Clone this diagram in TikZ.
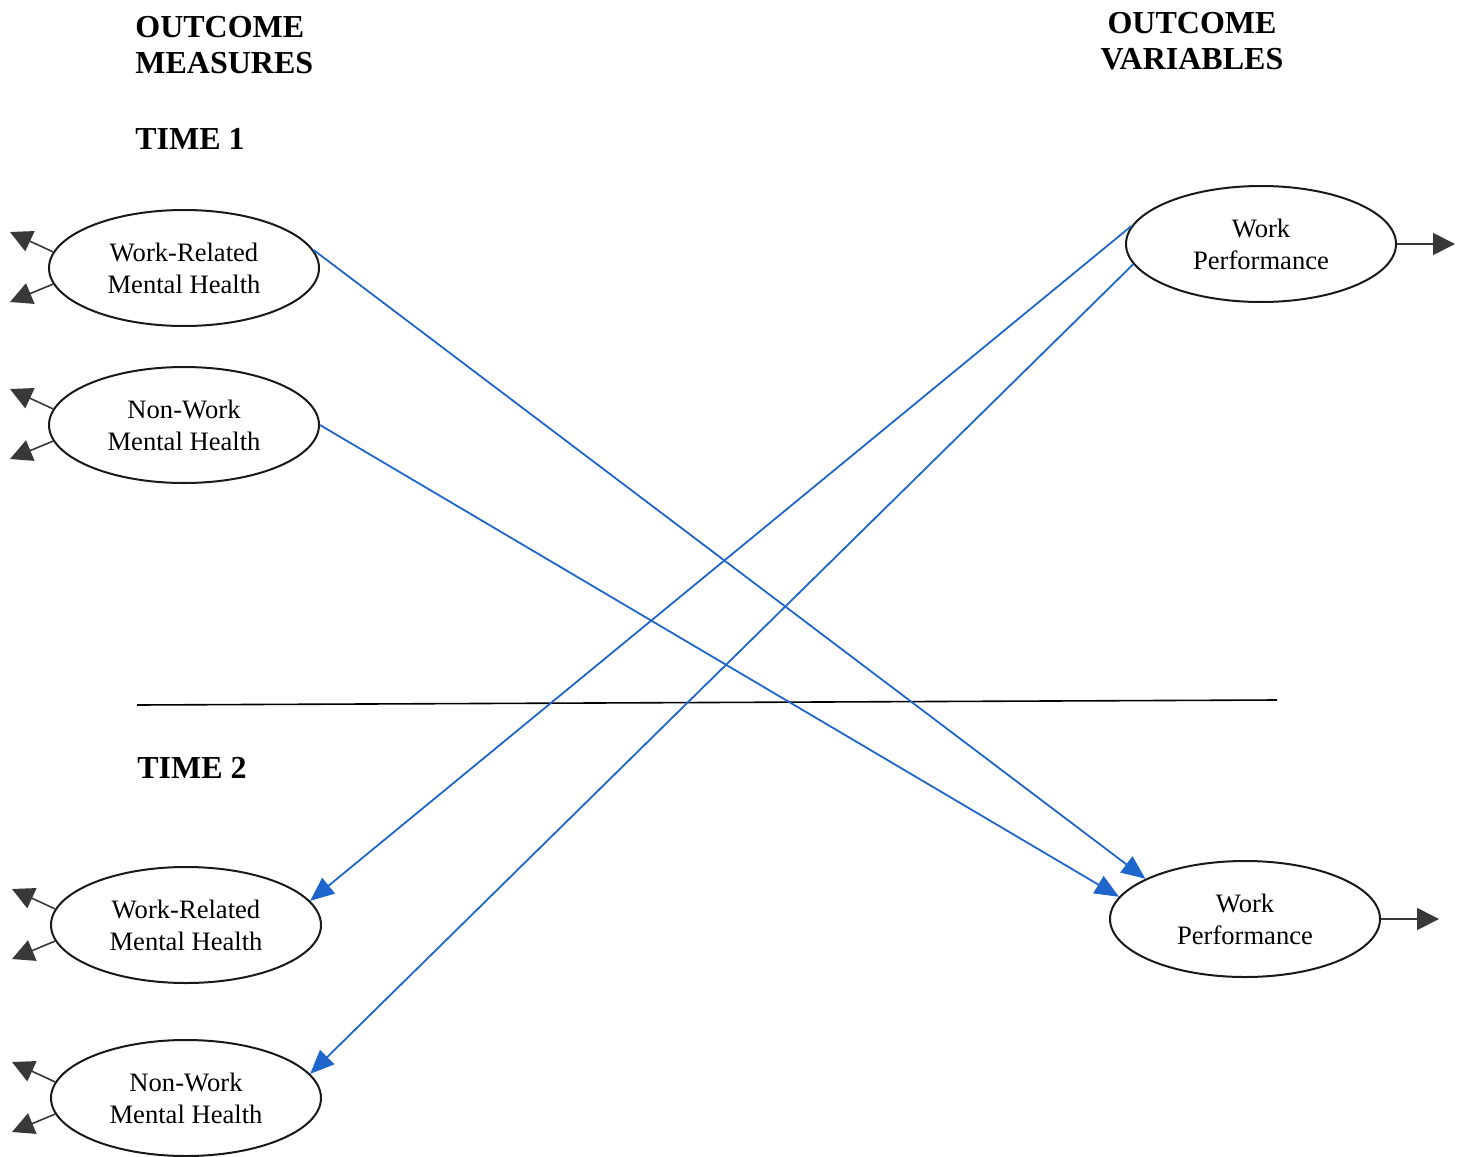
\documentclass[tikz,border=0pt]{standalone}
\usepackage{fontspec}
\setmainfont{Liberation Serif}
\usetikzlibrary{shapes.geometric,arrows.meta,calc}
\definecolor{pathblue}{HTML}{1E66CC}
\definecolor{tipgray}{HTML}{383838}
\begin{document}
\begin{tikzpicture}[x=0.5pt,y=-0.5pt,
  latent/.style={draw=black!90,line width=1pt,ellipse,minimum width=135pt,minimum height=58pt,
    inner sep=0pt,align=center,font=\fontsize{13.3}{16}\selectfont},
  heading/.style={font=\fontsize{16}{18}\selectfont\bfseries,inner sep=0pt},
  path/.style={draw=pathblue,line width=0.9pt,-{Triangle[length=12pt,width=10pt]}},
  resid/.style={draw=tipgray,line width=0.8pt,-{Triangle[length=11pt,width=11pt]}},
  outarrow/.style={draw=tipgray,line width=0.8pt,-{Triangle[length=11pt,width=11pt]}}]
\useasboundingbox (0,0) rectangle (1461,1156);

% column headings (base anchor sits on the last line)
\node[heading,anchor=base west,align=left] (hm) at (135,74) {OUTCOME\\MEASURES};
\node[heading,anchor=base,align=center] (hv) at (1192,70) {OUTCOME\\VARIABLES};
\node[heading,anchor=base west] (t1) at (135,149) {TIME 1};
\node[heading,anchor=base west] (t2) at (137,778) {TIME 2};

% divider between the two waves
\coordinate (divl) at (137,705);
\coordinate (divr) at (1277,700);
\draw[line width=0.8pt] (divl) -- (divr);

% latent variables
\node[latent] (wr1) at (184,268) {Work-Related\\Mental Health};
\node[latent] (nw1) at (184,425) {Non-Work\\Mental Health};
\node[latent] (wr2) at (186,925) {Work-Related\\Mental Health};
\node[latent] (nw2) at (186,1098) {Non-Work\\Mental Health};
\node[latent] (wp1) at (1261,244) {Work\\Performance};
\node[latent] (wp2) at (1245,919) {Work\\Performance};

% residual stubs on the left
\foreach \n in {wr1,nw1,wr2,nw2}{
  \coordinate (\n-up) at ($(\n.west)+(-38,-36)$);
  \coordinate (\n-dn) at ($(\n.west)+(-38,34)$);
  \draw[resid] (\n.173) -- (\n-up);
  \draw[resid] (\n.187) -- (\n-dn);
}

% output stubs on the right
\coordinate (wp1-out) at ($(wp1.east)+(58,0)$);
\coordinate (wp2-out) at ($(wp2.east)+(58,0)$);
\draw[outarrow] (wp1.east) -- (wp1-out);
\draw[outarrow] (wp2.east) -- (wp2-out);

% cross-lagged paths
\draw[path] (wr1.8) -- (wp2.158);
\draw[path] (nw1.0) -- (wp2.170);
\draw[path] (wp1.172) -- (wr2.11);
\draw[path] (wp1.189) -- (nw2.11);
\end{tikzpicture}
\end{document}
